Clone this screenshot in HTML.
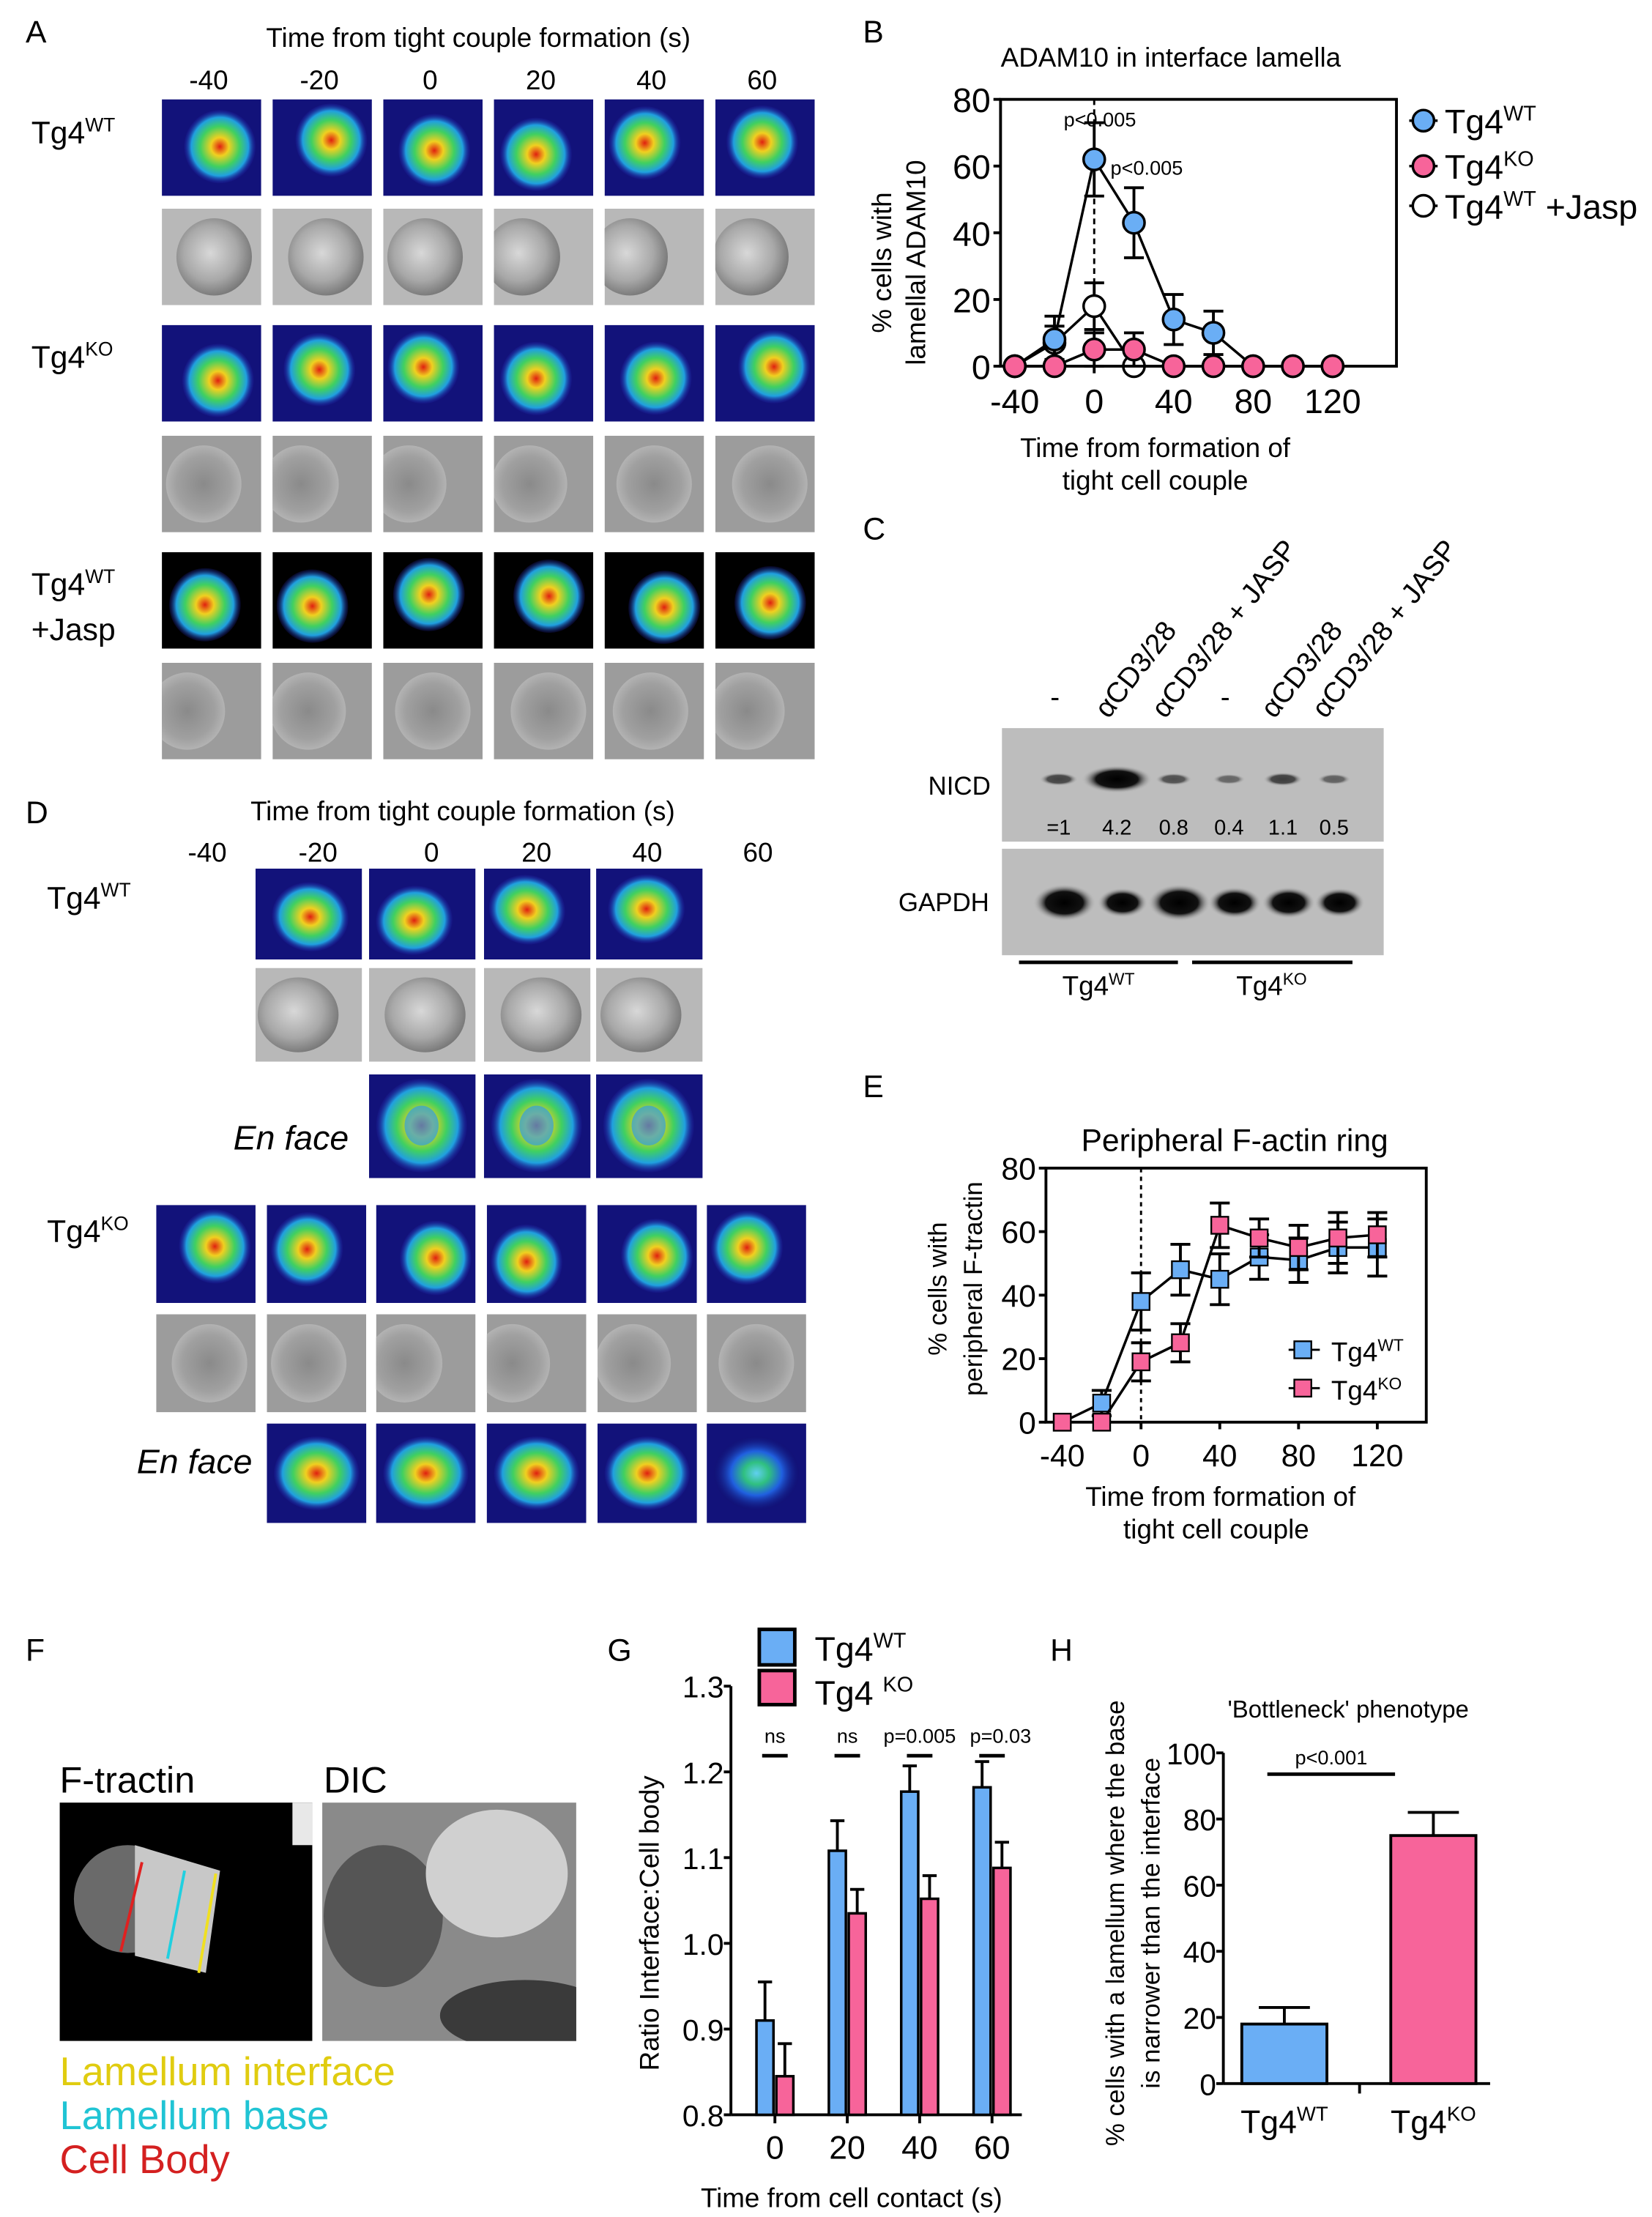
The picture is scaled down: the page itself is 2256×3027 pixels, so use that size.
<!DOCTYPE html>
<html><head><meta charset="utf-8">
<style>
html,body{margin:0;padding:0;background:#fff;}
svg{display:block;font-family:"Liberation Sans",Arial,sans-serif;}
</style></head>
<body>
<svg id="fig" width="2256" height="3027" viewBox="0 0 1164 1562" xmlns="http://www.w3.org/2000/svg">
<defs>
<radialGradient id="rainbow" cx="50%" cy="50%" r="50%">
<stop offset="0" stop-color="#e02010"/><stop offset="0.25" stop-color="#f0d020"/><stop offset="0.55" stop-color="#40d060"/><stop offset="0.8" stop-color="#20a0e0"/><stop offset="1" stop-color="#2020a0" stop-opacity="0.2"/>
</radialGradient>
<radialGradient id="rainbow2" cx="50%" cy="50%" r="50%">
<stop offset="0" stop-color="#60d0f0"/><stop offset="0.3" stop-color="#30c080"/><stop offset="0.6" stop-color="#2060e0"/><stop offset="1" stop-color="#101070" stop-opacity="0.2"/>
</radialGradient>
<radialGradient id="dic" cx="45%" cy="45%" r="60%">
<stop offset="0" stop-color="#d8d8d8"/><stop offset="0.6" stop-color="#a8a8a8"/><stop offset="1" stop-color="#707070"/>
</radialGradient>
<radialGradient id="dicdark" cx="50%" cy="50%" r="60%">
<stop offset="0" stop-color="#8a8a8a"/><stop offset="0.6" stop-color="#a0a0a0"/><stop offset="1" stop-color="#c0c0c0"/>
</radialGradient>
<radialGradient id="band" cx="50%" cy="50%" r="50%">
<stop offset="0" stop-color="#000"/><stop offset="0.6" stop-color="#111"/><stop offset="1" stop-color="#b8b8b8" stop-opacity="0"/>
</radialGradient>
</defs>
<g id="root"></g>
</svg>
<script>
// ---------- Panel B data ----------
const bTimes = [-40,-20,0,20,40,60,80,100,120];
const bWT = [0,8,62,43,14,10,0,0,0];
const bWTerr = [0,7,11,10.5,7.5,6.5,0,0,0];
const bKO = [0,0,5,5,0,0,0,0,0];
const bKOerr = [0,0,5,5,0,0,0,0,0];
const bJaspTimes = [-40,-20,0,20];
const bJasp = [0,7,18,0];
const bJaspErr = [0,5,7,0];
const bYTicks = [0,20,40,60,80];
const bXTicks = [-40,0,40,80,120];
// ---------- Panel E data ----------
const eTimes = [-40,-20,0,20,40,60,80,100,120];
const eWT = [0,6,38,48,45,52,51,55,55];
const eWTerr = [0,4,9,8,8,7,7,8,9];
const eKO = [0,0,19,25,62,58,55,58,59];
const eKOerr = [0,0,6,6,7,6,7,8,7];
const eYTicks = [0,20,40,60,80];
const eXTicks = [-40,0,40,80,120];
// ---------- Panel G data ----------
const gCats = ["0","20","40","60"];
const gWT = [0.91,1.108,1.177,1.182];
const gWTerr = [0.045,0.035,0.03,0.03];
const gKO = [0.845,1.035,1.052,1.088];
const gKOerr = [0.038,0.028,0.027,0.03];
const gSig = ["ns","ns","p=0.005","p=0.03"];
const gYTicks = [0.8,0.9,1.0,1.1,1.2,1.3];
// ---------- Panel H data ----------
const hCats = ["WT","KO"];
const hVals = [18,75];
const hErr = [5,7];
const hYTicks = [0,20,40,60,80,100];
// ---------- Panel C data ----------
const cLanes = ["-","αCD3/28","αCD3/28 + JASP","-","αCD3/28","αCD3/28 + JASP"];
const cNICD = ["=1","4.2","0.8","0.4","1.1","0.5"];
const cNICDint = [1,4.2,0.8,0.4,1.1,0.5];
const cGAPDH = [1.0,0.8,1.0,0.85,0.85,0.8];

const NS="http://www.w3.org/2000/svg";
const root=document.getElementById('root');
function el(tag,attrs,parent,txt){const e=document.createElementNS(NS,tag);for(const k in attrs)e.setAttribute(k,attrs[k]);if(txt!==undefined)e.textContent=txt;(parent||root).appendChild(e);return e;}
function grp(name,parent){const g=el('g',{},parent);return g;}
function txt(parent,x,y,s,size,opts){opts=opts||{};const t=el('text',{x:x,y:y,'font-size':size,'text-anchor':opts.anchor||'start',fill:opts.fill||'#000'},parent);if(opts.style)t.setAttribute('font-style',opts.style);if(opts.rot)t.setAttribute('transform',opts.rot);if(opts.len)t.setAttribute('textLength',opts.len);t.textContent=s;return t;}
function sup(parent,x,y,base,s,size,opts){opts=opts||{};const t=el('text',{x:x,y:y,'font-size':size,'text-anchor':opts.anchor||'start',fill:opts.fill||'#000'},parent);t.appendChild(document.createTextNode(base));el('tspan',{'font-size':size*0.62,dy:-size*0.38},t,s);if(opts.tail){el('tspan',{dy:size*0.38,'font-size':size},t,opts.tail);}return t;}
function tile(parent,x,y,w,h){return el('svg',{x:x,y:y,width:w,height:h,overflow:'hidden'},parent);}

// panel letters
[["A",18,30],["B",608,30],["C",608,380],["D",18,580],["E",608,773],["F",18,1170],["G",428,1170],["H",740,1170]].forEach(p=>{
 const t=txt(root,p[1],p[2],p[0],22);
 
 
});

// ---------- microscopy tiles ----------
function fluorTile(parent,x,y,w,h,variant,seed){
 const s=tile(parent,x,y,w,h);
 el('rect',{x:0,y:0,width:w,height:h,fill:variant==='black'?'#000':'#12127a'},s);
 const cx=w*(0.5+0.1*Math.sin(seed)),cy=h*(0.5+0.08*Math.cos(seed*1.7));
 el('ellipse',{cx:cx,cy:cy,rx:w*0.36,ry:h*0.38,fill:variant==='face2'?'url(#rainbow2)':'url(#rainbow)',transform:`rotate(${seed*23%40-20} ${cx} ${cy})`},s);
}
function dicTile(parent,x,y,w,h,seed,dark){
 const s=tile(parent,x,y,w,h);
 el('rect',{x:0,y:0,width:w,height:h,fill:dark?'#9c9c9c':'#b8b8b8'},s);
 const cx=w*(0.4+0.15*Math.sin(seed)),cy=h*0.5;
 el('ellipse',{cx:cx,cy:cy,rx:w*0.38,ry:h*0.4,fill:dark?'url(#dicdark)':'url(#dic)'},s);
}
// Panel A
const gA=grp('panel-a-micrographs');
txt(gA,337,33,"Time from tight couple formation (s)",19,{anchor:'middle'});
const aCols=["-40","-20","0","20","40","60"];
const aX=[114,192,270,348,426,504];
aCols.forEach((c,i)=>{txt(gA,aX[i]+33,63,c,19,{anchor:'middle'});});
const aRows=[[70,'f','blue'],[147,'d'],[229,'f','blue'],[307,'d',true],[389,'f','black'],[467,'d',true]];
aRows.forEach((r,ri)=>aX.forEach((x,ci)=>{if(r[1]==='f')fluorTile(gA,x,r[0],70,68,r[2],ri*7+ci+1);else dicTile(gA,x,r[0],70,68,ri+ci,r[2]);}));
sup(gA,22,101,"Tg4","WT",22);
sup(gA,22,259,"Tg4","KO",22);
sup(gA,22,419,"Tg4","WT",22);
txt(gA,22,451,"+Jasp",22);

// Panel D
const gD=grp('panel-d-micrographs');
txt(gD,326,578,"Time from tight couple formation (s)",19,{anchor:'middle'});
const dLab=["-40","-20","0","20","40","60"],dLX=[146,224,304,378,456,534];
dLab.forEach((c,i)=>txt(gD,dLX[i],607,c,19,{anchor:'middle'}));
const dX1=[180,260,341,420];
dX1.forEach((x,i)=>{fluorTile(gD,x,612,75,64,'blue',i+3);dicTile(gD,x,682,75,66,i,false);});
[260,341,420].forEach((x,i)=>{el('rect',{x:x,y:757,width:75,height:73,fill:'#12127a'},gD);el('ellipse',{cx:x+37,cy:793,rx:32,ry:33,fill:'url(#rainbow)'},gD);el('ellipse',{cx:x+37,cy:793,rx:12,ry:14,fill:'#30a0e0',opacity:0.7},gD);});
txt(gD,205,810,"En face",24,{anchor:'middle',style:'italic'});
sup(gD,33,640,"Tg4","WT",22);
sup(gD,33,875,"Tg4","KO",22);
const dX2=[110,188,265,343,421,498];
dX2.forEach((x,i)=>{fluorTile(gD,x,849,70,69,'blue',i*3+2);dicTile(gD,x,926,70,69,i+2,true);});
[188,265,343,421,498].forEach((x,i)=>{el('rect',{x:x,y:1003,width:70,height:70,fill:'#12127a'},gD);el('ellipse',{cx:x+35,cy:1038,rx:30,ry:26,fill:i===4?'url(#rainbow2)':'url(#rainbow)'},gD);});
txt(gD,137,1038,"En face",24,{anchor:'middle',style:'italic'});

// ---------- Panel B chart ----------
(function(){
 const g=grp('panel-b-adam10-chart');
 const X0=705,X1=984,Y0=258,Y1=70;
 const xs=v=>771+(v)*(56/40), ys=v=>Y0-(v/80)*(Y0-Y1);
 txt(g,825,47,"ADAM10 in interface lamella",19,{anchor:'middle'});
 el('rect',{x:X0,y:Y1,width:X1-X0,height:Y0-Y1,fill:'none',stroke:'#000','stroke-width':2},g);
 bYTicks.forEach(v=>{el('line',{x1:X0-5,x2:X0,y1:ys(v),y2:ys(v),stroke:'#000','stroke-width':2},g);txt(g,X0-7,ys(v)+9,String(v),24,{anchor:'end'});});
 bXTicks.forEach(v=>{el('line',{x1:xs(v),x2:xs(v),y1:Y0,y2:Y0+5,stroke:'#000','stroke-width':2},g);txt(g,xs(v),Y0+33,String(v),24,{anchor:'middle'});});
 txt(g,0,0,"% cells with",19,{anchor:'middle',rot:`translate(628,185) rotate(-90)`});
 txt(g,0,0,"lamellal ADAM10",19,{anchor:'middle',rot:`translate(652,185) rotate(-90)`});
 txt(g,814,322,"Time from formation of",19,{anchor:'middle'});
 txt(g,814,345,"tight cell couple",19,{anchor:'middle'});
 el('line',{x1:xs(0),x2:xs(0),y1:Y1,y2:Y0,stroke:'#000','stroke-width':1.5,'stroke-dasharray':'4,3'},g);
 function series(times,vals,errs,fill,name){
  const sg=grp(name,g);
  el('polyline',{points:times.map((t,i)=>xs(t)+','+ys(vals[i])).join(' '),fill:'none',stroke:'#000','stroke-width':1.8},sg);
  times.forEach((t,i)=>{if(errs[i]>0){const x=xs(t);el('line',{x1:x,x2:x,y1:ys(vals[i]+errs[i]),y2:ys(vals[i]-errs[i]),stroke:'#000','stroke-width':2},sg);[1,-1].forEach(s=>el('line',{x1:x-7,x2:x+7,y1:ys(vals[i]+s*errs[i]),y2:ys(vals[i]+s*errs[i]),stroke:'#000','stroke-width':2},sg));}});
  times.forEach((t,i)=>{const c=el('circle',{cx:xs(t),cy:ys(vals[i]),r:7.5,fill:fill,stroke:'#000','stroke-width':1.8},sg);});
 }
 series(bJaspTimes,bJasp,bJaspErr,'#fff','series-jasp');
 series(bTimes,bWT,bWTerr,'#6aaef5','series-wt');
 series(bTimes,bKO,bKOerr,'#f7649a','series-ko');
 txt(g,775,89,"p<0.005",14,{anchor:'middle'});
 txt(g,808,123,"p<0.005",14,{anchor:'middle'});
 const lg=grp('panel-b-legend',g);
 [['#6aaef5',"WT",85],['#f7649a',"KO",117],['#fff',"WT",145]].forEach((l,i)=>{el('line',{x1:993,x2:1013,y1:l[2],y2:l[2],stroke:'#000','stroke-width':1.8},lg);el('circle',{cx:1003,cy:l[2],r:7.5,fill:l[0],stroke:'#000','stroke-width':1.8},lg);sup(lg,1018,l[2]+9,"Tg4",l[1],24,i===2?{tail:" +Jasp"}:{});});
})();

// ---------- Panel C blot ----------
(function(){
 const g=grp('panel-c-western-blot');
 const lx=[746,787,827,866,904,940];
 cLanes.forEach((l,i)=>{txt(g,0,0,l,20,{rot:`translate(${lx[i]-6},${l==='-'?498:507}) rotate(${l==='-'?0:-52})`});});
 el('rect',{x:706,y:513,width:269,height:80,fill:'#bdbdbd'},g);
 el('rect',{x:706,y:598,width:269,height:75,fill:'#bdbdbd'},g);
 txt(g,676,560,"NICD",18,{anchor:'middle'});
 txt(g,665,642,"GAPDH",18,{anchor:'middle'});
 cNICDint.forEach((v,i)=>{const w=10+Math.min(v,4.2)*3.5;el('ellipse',{cx:lx[i],cy:549,rx:w,ry:3+Math.min(v,4.2)*1.6,fill:'url(#band)',opacity:Math.min(1,0.35+v*0.3)},g);txt(g,lx[i],588,cNICD[i],15,{anchor:'middle'});});
 cGAPDH.forEach((v,i)=>{el('ellipse',{cx:lx[i]+4,cy:636,rx:22*v,ry:13*v,fill:'url(#band)'},g);});
 el('line',{x1:718,x2:830,y1:678,y2:678,stroke:'#000','stroke-width':2.5},g);
 el('line',{x1:840,x2:953,y1:678,y2:678,stroke:'#000','stroke-width':2.5},g);
 sup(g,774,701,"Tg4","WT",19,{anchor:'middle'});
 sup(g,896,701,"Tg4","KO",19,{anchor:'middle'});
})();

// ---------- Panel E chart ----------
(function(){
 const g=grp('panel-e-factin-chart');
 const X0=737,X1=1005,Y0=1002,Y1=823;
 const xs=v=>804+v*(55.5/40), ys=v=>Y0-(v/80)*(Y0-Y1);
 txt(g,870,811,"Peripheral F-actin ring",22,{anchor:'middle'});
 el('rect',{x:X0,y:Y1,width:X1-X0,height:Y0-Y1,fill:'none',stroke:'#000','stroke-width':2},g);
 eYTicks.forEach(v=>{el('line',{x1:X0-5,x2:X0,y1:ys(v),y2:ys(v),stroke:'#000','stroke-width':2},g);txt(g,X0-7,ys(v)+8,String(v),22,{anchor:'end'});});
 eXTicks.forEach(v=>{el('line',{x1:xs(v),x2:xs(v),y1:Y0,y2:Y0+5,stroke:'#000','stroke-width':2},g);txt(g,xs(v),Y0+31,String(v),22,{anchor:'middle'});});
 txt(g,0,0,"% cells with",18,{anchor:'middle',rot:`translate(667,908) rotate(-90)`});
 txt(g,0,0,"peripheral F-tractin",18,{anchor:'middle',rot:`translate(692,908) rotate(-90)`});
 txt(g,860,1061,"Time from formation of",19,{anchor:'middle'});
 txt(g,857,1084,"tight cell couple",19,{anchor:'middle'});
 el('line',{x1:xs(0),x2:xs(0),y1:Y1,y2:Y0,stroke:'#000','stroke-width':1.5,'stroke-dasharray':'3,3'},g);
 function series(vals,errs,fill,name){
  const sg=grp(name,g);
  el('polyline',{points:eTimes.map((t,i)=>xs(t)+','+ys(vals[i])).join(' '),fill:'none',stroke:'#000','stroke-width':1.8},sg);
  eTimes.forEach((t,i)=>{if(errs[i]>0){const x=xs(t);el('line',{x1:x,x2:x,y1:ys(vals[i]+errs[i]),y2:ys(vals[i]-errs[i]),stroke:'#000','stroke-width':2},sg);[1,-1].forEach(s=>el('line',{x1:x-7,x2:x+7,y1:ys(vals[i]+s*errs[i]),y2:ys(vals[i]+s*errs[i]),stroke:'#000','stroke-width':2},sg));}});
  eTimes.forEach((t,i)=>{const r=el('rect',{x:xs(t)-6,y:ys(vals[i])-6,width:12,height:12,fill:fill,stroke:'#000','stroke-width':1.2},sg);});
 }
 series(eWT,eWTerr,'#6aaef5','series-wt');
 series(eKO,eKOerr,'#f7649a','series-ko');
 const lg=grp('panel-e-legend',g);
 [['#6aaef5',"WT",951],['#f7649a',"KO",978]].forEach(l=>{el('line',{x1:908,x2:930,y1:l[2],y2:l[2],stroke:'#000','stroke-width':1.5},lg);el('rect',{x:912,y:l[2]-6,width:12,height:12,fill:l[0],stroke:'#000','stroke-width':1.2},lg);sup(lg,938,l[2]+8,"Tg4",l[1],19);});
})();

// ---------- Panel F ----------
(function(){
 const g=grp('panel-f-lamellum-images');
 txt(g,42,1263,"F-tractin",26);
 txt(g,228,1263,"DIC",26);
 const a=tile(g,42,1270,178,168);
 el('rect',{x:0,y:0,width:178,height:168,fill:'#000'},a);
 el('rect',{x:164,y:0,width:14,height:30,fill:'#e8e8e8'},a);
 el('ellipse',{cx:48,cy:68,rx:38,ry:38,fill:'#6a6a6a'},a);
 el('polygon',{points:'53,30 113,48 103,120 53,108',fill:'#c8c8c8'},a);
 el('line',{x1:58,x2:43,y1:42,y2:105,stroke:'#e02020','stroke-width':2},a);
 el('line',{x1:88,x2:76,y1:48,y2:110,stroke:'#20d0e0','stroke-width':2},a);
 el('line',{x1:110,x2:98,y1:50,y2:120,stroke:'#f0e020','stroke-width':2},a);
 const d=tile(g,227,1270,179,168);
 el('rect',{x:0,y:0,width:179,height:168,fill:'#8a8a8a'},d);
 el('ellipse',{cx:43,cy:80,rx:42,ry:50,fill:'#555'},d);
 el('ellipse',{cx:123,cy:50,rx:50,ry:45,fill:'#d0d0d0'},d);
 el('ellipse',{cx:143,cy:150,rx:60,ry:25,fill:'#3a3a3a'},d);
 txt(g,42,1469,"Lamellum interface",28,{fill:'#e0cc10'});
 txt(g,42,1500,"Lamellum base",28,{fill:'#20c4d4'});
 txt(g,42,1531,"Cell Body",28,{fill:'#d42020'});
})();

// ---------- Panel G ----------
(function(){
 const g=grp('panel-g-ratio-chart');
 const AX=515,Y0=1490,Ytop=1188;
 const ys=v=>Y0-(v-0.8)/0.5*(Y0-Ytop);
 const cx=[546,597,648,699];
 el('line',{x1:AX,x2:AX,y1:Ytop,y2:Y0,stroke:'#000','stroke-width':2},g);
 el('line',{x1:AX,x2:720,y1:Y0,y2:Y0,stroke:'#000','stroke-width':2},g);
 gYTicks.forEach(v=>{el('line',{x1:AX-5,x2:AX,y1:ys(v),y2:ys(v),stroke:'#000','stroke-width':2},g);txt(g,AX-5,ys(v)+8,v.toFixed(1),21,{anchor:'end'});});
 gCats.forEach((c,i)=>{el('line',{x1:cx[i],x2:cx[i],y1:Y0,y2:Y0+6,stroke:'#000','stroke-width':2},g);txt(g,cx[i],Y0+31,c,23,{anchor:'middle'});});
 function bar(i,v,e,dx,fill,name){
  const x=cx[i]+dx;
  const r=el('rect',{x:x,y:ys(v),width:12,height:Y0-ys(v),fill:fill,stroke:'#000','stroke-width':1.8},g);
  
  el('line',{x1:x+6,x2:x+6,y1:ys(v),y2:ys(v+e),stroke:'#000','stroke-width':2},g);
  el('line',{x1:x+1,x2:x+11,y1:ys(v+e),y2:ys(v+e),stroke:'#000','stroke-width':2},g);
 }
 gWT.forEach((v,i)=>bar(i,v,gWTerr[i],-13,'#6aaef5','bar-wt-'+gCats[i]));
 gKO.forEach((v,i)=>bar(i,gKO[i],gKOerr[i],1,'#f7649a','bar-ko-'+gCats[i]));
 gSig.forEach((s,i)=>{const x=i===3?cx[i]+6:cx[i];txt(g,x,1228,s,14,{anchor:'middle'});el('line',{x1:cx[i]-9,x2:cx[i]+9,y1:1237,y2:1237,stroke:'#000','stroke-width':2.5},g);});
 txt(g,0,0,"Ratio Interface:Cell body",19,{anchor:'middle',rot:`translate(464,1355) rotate(-90)`});
 txt(g,600,1555,"Time from cell contact (s)",19,{anchor:'middle'});
 const lg=grp('panel-g-legend',g);
 el('rect',{x:535,y:1148,width:25,height:25,fill:'#6aaef5',stroke:'#000','stroke-width':2.5},lg);
 el('rect',{x:535,y:1177,width:25,height:24,fill:'#f7649a',stroke:'#000','stroke-width':2.5},lg);
 sup(lg,574,1170,"Tg4","WT",24);
 sup(lg,574,1201,"Tg4 ","KO",24);
})();

// ---------- Panel H ----------
(function(){
 const g=grp('panel-h-bottleneck-chart');
 const AX=862,Y0=1468,Ytop=1235;
 const ys=v=>Y0-v/100*(Y0-Ytop);
 const bx=[875,980];
 txt(g,950,1210,"'Bottleneck' phenotype",17,{anchor:'middle'});
 el('line',{x1:AX,x2:AX,y1:Ytop,y2:Y0,stroke:'#000','stroke-width':2},g);
 el('line',{x1:AX,x2:1050,y1:Y0,y2:Y0,stroke:'#000','stroke-width':2},g);
 el('line',{x1:958,x2:958,y1:Y0,y2:Y0+7,stroke:'#000','stroke-width':2},g);
 hYTicks.forEach(v=>{el('line',{x1:AX-5,x2:AX,y1:ys(v),y2:ys(v),stroke:'#000','stroke-width':2},g);txt(g,AX-5,ys(v)+8,String(v),21,{anchor:'end'});});
 const fills=['#6aaef5','#f7649a'];
 hVals.forEach((v,i)=>{const r=el('rect',{x:bx[i],y:ys(v),width:60,height:Y0-ys(v),fill:fills[i],stroke:'#000','stroke-width':2},g);
  el('line',{x1:bx[i]+30,x2:bx[i]+30,y1:ys(v),y2:ys(v+hErr[i]),stroke:'#000','stroke-width':2},g);
  el('line',{x1:bx[i]+12,x2:bx[i]+48,y1:ys(v+hErr[i]),y2:ys(v+hErr[i]),stroke:'#000','stroke-width':2},g);
  sup(g,bx[i]+30,1503,"Tg4",hCats[i],23,{anchor:'middle'});});
 txt(g,938,1243,"p<0.001",14,{anchor:'middle'});
 el('line',{x1:893,x2:983,y1:1250,y2:1250,stroke:'#000','stroke-width':2.5},g);
 txt(g,0,0,"% cells with a lamellum where the base",18,{anchor:'middle',rot:`translate(792,1355) rotate(-90)`});
 txt(g,0,0,"is narrower than the interface",18,{anchor:'middle',rot:`translate(817,1355) rotate(-90)`});
})();
</script>
</body></html>
